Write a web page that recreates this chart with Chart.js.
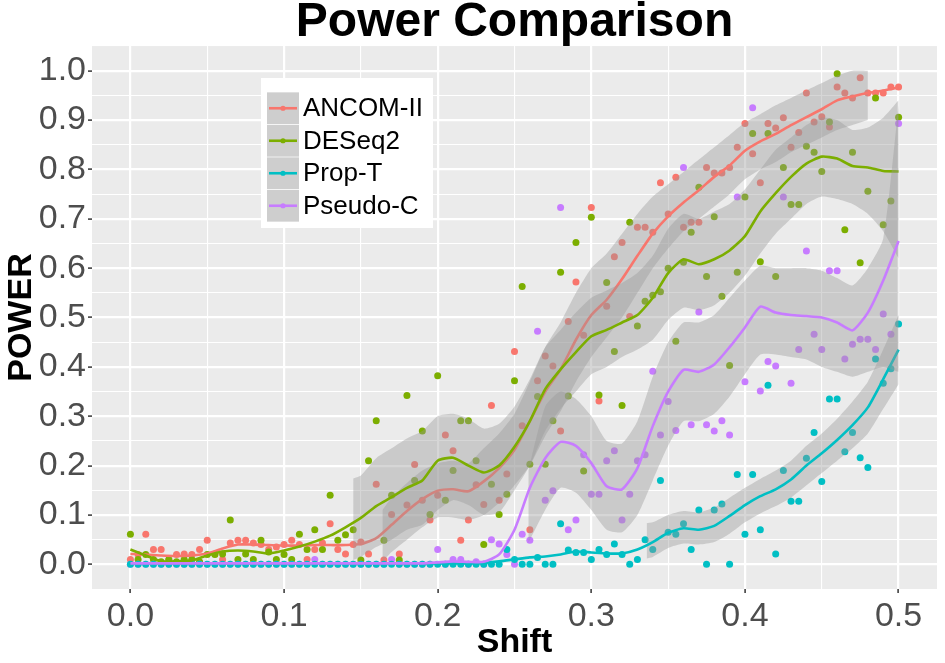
<!DOCTYPE html>
<html lang="en">
<head>
<meta charset="UTF-8">
<title>Power Comparison</title>
<script src="https://cdn.jsdelivr.net/npm/chart.js@4.4.1/dist/chart.umd.min.js"></script>
<style>
    body { margin: 0; background: #ffffff; }
    #wrap { width: 945px; height: 663px; }
</style>
</head>
<body>
<div id="wrap"><canvas id="powerChart" width="945" height="663"></canvas></div>
<script>
// methods, in legend order
const methods = ['ANCOM-II', 'DESeq2', 'Prop-T', 'Pseudo-C'];
const colors = ['#F8766D', '#7CAE00', '#00BFC4', '#C77CFF'];

// shift of every simulated point
const shift = [
    0, 0.005, 0.01, 0.015, 0.02, 0.025, 0.03, 0.035, 0.04, 0.045,
    0.05, 0.055, 0.06, 0.065, 0.07, 0.075, 0.08, 0.085, 0.09, 0.095,
    0.1, 0.105, 0.11, 0.115, 0.12, 0.125, 0.13, 0.135, 0.14, 0.145,
    0.15, 0.155, 0.16, 0.165, 0.17, 0.175, 0.18, 0.185, 0.19, 0.195,
    0.2, 0.205, 0.21, 0.215, 0.22, 0.225, 0.23, 0.235, 0.24, 0.245,
    0.25, 0.255, 0.26, 0.265, 0.27, 0.275, 0.28, 0.285, 0.29, 0.295,
    0.3, 0.305, 0.31, 0.315, 0.32, 0.325, 0.33, 0.335, 0.34, 0.345,
    0.35, 0.355, 0.36, 0.365, 0.37, 0.375, 0.38, 0.385, 0.39, 0.395,
    0.4, 0.405, 0.41, 0.415, 0.42, 0.425, 0.43, 0.435, 0.44, 0.445,
    0.45, 0.455, 0.46, 0.465, 0.47, 0.475, 0.48, 0.485, 0.49, 0.495,
    0.5
];

// observed power per method
const ancomPoints = [
    0.01, 0.02, 0.061, 0.03, 0.03, 0.009, 0.02, 0.021, 0.02, 0.03,
    0.049, 0.021, 0.01, 0.043, 0.049, 0.049, 0.043, 0.04, 0.03, 0.035,
    0.04, 0.049, 0.04, 0.01, 0.03, 0.043, 0.082, 0.03, 0.021, 0.04,
    0.045, 0.021, 0.162, 0.009, 0.101, 0.021, 0.12, 0.202, 0.13, 0.09,
    0.14, 0.262, 0.23, 0.049, 0.09, 0.161, 0.121, 0.322, 0.13, 0.183,
    0.431, 0.281, 0.07, 0.372, 0.422, 0.402, 0.27, 0.492, 0.572, 0.464,
    0.723, 0.331, 0.523, 0.623, 0.652, 0.502, 0.683, 0.683, 0.673, 0.773,
    0.71, 0.784, 0.683, 0.693, 0.693, 0.804, 0.793, 0.793, 0.804, 0.845,
    0.893, 0.832, 0.773, 0.893, 0.884, 0.905, 0.845, 0.875, 0.955, 0.896,
    0.907, 0.886, 0.967, 0.955, 0.945, 0.986, 0.955, 0.955, 0.955, 0.967,
    0.967
];
const deseqPoints = [
    0.061, 0.01, 0.02, 0.01, 0.005, 0.01, 0.005, 0.01, 0.01, 0.005,
    0.02, 0.02, 0.021, 0.09, 0.01, 0.021, 0.01, 0.049, 0.025, 0.01,
    0.02, 0.01, 0.061, 0.03, 0.07, 0.03, 0.14, 0.049, 0.06, 0.07,
    0.009, 0.21, 0.291, 0.049, 0.14, 0.009, 0.342, 0.17, 0.27, 0.101,
    0.382, 0.13, 0.19, 0.291, 0.291, 0.21, 0.04, 0.162, 0.101, 0.142,
    0.372, 0.563, 0.203, 0.34, 0.203, 0.291, 0.592, 0.341, 0.652, 0.189,
    0.703, 0.343, 0.571, 0.431, 0.322, 0.693, 0.483, 0.533, 0.545, 0.552,
    0.6, 0.452, 0.612, 0.673, 0.764, 0.583, 0.704, 0.543, 0.403, 0.592,
    0.744, 0.873, 0.613, 0.873, 0.583, 0.804, 0.729, 0.729, 0.847, 0.835,
    0.796, 0.896, 0.994, 0.678, 0.835, 0.611, 0.756, 0.945, 0.688, 0.736,
    0.906
];
const propPoints = [
    0, 0, 0, 0, 0, 0, 0, 0, 0, 0,
    0, 0, 0, 0, 0, 0, 0, 0, 0, 0,
    0, 0, 0, 0, 0, 0, 0, 0, 0, 0,
    0, 0, 0, 0, 0, 0, 0, 0, 0, 0,
    0, 0, 0, 0, 0, 0, 0, 0, 0, 0.03,
    0.01, 0, 0, 0.014, 0, 0, 0.082, 0.029, 0.024, 0.024,
    0.01, 0.03, 0.02, 0.041, 0.02, 0, 0.01, 0.05, 0.03, 0.17,
    0.065, 0.061, 0.082, 0.03, 0.11, 0, 0.11, 0.122, 0, 0.182,
    0.061, 0.182, 0.07, 0.363, 0.021, 0.19, 0.128, 0.128, 0.215, 0.267,
    0.168, 0.335, 0.335, 0.228, 0.267, 0.216, 0.196, 0.416, 0.367, 0.396,
    0.487
];
const pseudoPoints = [
    0, 0, 0, 0, 0, 0, 0, 0, 0, 0,
    0, 0, 0, 0, 0, 0, 0, 0, 0, 0,
    0, 0, 0, 0, 0.01, 0, 0, 0, 0, 0,
    0, 0, 0, 0, 0.01, 0, 0, 0, 0, 0,
    0.03, 0, 0.01, 0.01, 0, 0.005, 0, 0.05, 0.041, 0.02,
    0, 0.061, 0.049, 0.472, 0.13, 0.149, 0.723, 0.07, 0.09, 0.222,
    0.142, 0.142, 0.21, 0.23, 0.09, 0.142, 0.21, 0.222, 0.391, 0.262,
    0.33, 0.271, 0.804, 0.283, 0.511, 0.283, 0.27, 0.291, 0.262, 0.744,
    0.37, 0.925, 0.351, 0.411, 0.402, 0.744, 0.367, 0.435, 0.635, 0.466,
    0.435, 0.595, 0.595, 0.416, 0.446, 0.456, 0.456, 0.435, 0.507, 0.466,
    0.893
];

// loess fits
const lineShift = [
    0, 0.01, 0.02, 0.03, 0.04, 0.05, 0.06, 0.07, 0.08, 0.09,
    0.1, 0.11, 0.12, 0.13, 0.14, 0.15, 0.16, 0.17, 0.18, 0.19,
    0.2, 0.21, 0.22, 0.23, 0.24, 0.25, 0.26, 0.27, 0.28, 0.29,
    0.3, 0.31, 0.32, 0.33, 0.34, 0.35, 0.36, 0.37, 0.38, 0.39,
    0.4, 0.41, 0.42, 0.43, 0.44, 0.45, 0.46, 0.47, 0.48, 0.49,
    0.5
];
const ancomLine = [
    0.021, 0.02, 0.018, 0.017, 0.018, 0.022, 0.032, 0.04, 0.04, 0.039,
    0.038, 0.038, 0.039, 0.039, 0.039, 0.041, 0.053, 0.08, 0.108, 0.132,
    0.149, 0.152, 0.148, 0.168, 0.195, 0.232, 0.29, 0.35, 0.395, 0.455,
    0.505, 0.536, 0.578, 0.625, 0.67, 0.705, 0.733, 0.758, 0.785, 0.808,
    0.838, 0.857, 0.872, 0.89, 0.906, 0.922, 0.94, 0.948, 0.955, 0.96,
    0.966
];
const deseqLine = [
    0.03, 0.018, 0.006, 0.006, 0.008, 0.018, 0.026, 0.028, 0.026, 0.022,
    0.028, 0.036, 0.046, 0.058, 0.075, 0.094, 0.118, 0.136, 0.155, 0.17,
    0.21, 0.216, 0.2, 0.186, 0.2, 0.238, 0.29, 0.355, 0.395, 0.43,
    0.462, 0.475, 0.49, 0.505, 0.54, 0.59, 0.618, 0.608, 0.618, 0.636,
    0.665, 0.715, 0.752, 0.785, 0.812, 0.826, 0.822, 0.807, 0.804, 0.797,
    0.796
];
const propLine = [
    0.002, 0.002, 0.002, 0.002, 0.002, 0.002, 0.002, 0.002, 0.002, 0.002,
    0.002, 0.002, 0.002, 0.002, 0.002, 0.002, 0.002, 0.002, 0.002, 0.002,
    0.002, 0.002, 0.002, 0.003, 0.006, 0.01, 0.014, 0.016, 0.02, 0.026,
    0.024, 0.022, 0.022, 0.03, 0.045, 0.064, 0.073, 0.07, 0.078, 0.098,
    0.12, 0.138, 0.152, 0.172, 0.2, 0.225, 0.252, 0.282, 0.318, 0.375,
    0.435
];
const pseudoLine = [
    0.002, 0.002, 0.002, 0.002, 0.002, 0.002, 0.002, 0.002, 0.002, 0.002,
    0.002, 0.002, 0.002, 0.002, 0.002, 0.002, 0.002, 0.002, 0.002, 0.002,
    0.004, 0.006, 0.005, 0.005, 0.02, 0.07, 0.155, 0.215, 0.248, 0.24,
    0.205, 0.158, 0.152, 0.195, 0.28, 0.35, 0.394, 0.39, 0.405, 0.44,
    0.48, 0.522, 0.51, 0.505, 0.503, 0.5, 0.49, 0.474, 0.51, 0.575,
    0.655
];

// confidence bands (only where the fit reports them)
const ancomBandShift = [0.164, 0.17, 0.18, 0.19, 0.2, 0.21, 0.22, 0.23, 0.24, 0.25, 0.26, 0.27, 0.28, 0.29, 0.3, 0.31, 0.32, 0.33, 0.34, 0.35, 0.36, 0.37, 0.38, 0.39, 0.4, 0.41, 0.42, 0.43, 0.44, 0.45, 0.46, 0.47, 0.48];
const ancomLower = [0.005, 0.025, 0.05, 0.075, 0.095, 0.095, 0.09, 0.1, 0.125, 0.16, 0.2, 0.26, 0.31, 0.37, 0.42, 0.46, 0.5, 0.55, 0.6, 0.64, 0.675, 0.7, 0.725, 0.75, 0.78, 0.8, 0.815, 0.835, 0.85, 0.865, 0.88, 0.89, 0.9];
const ancomUpper = [0.11, 0.135, 0.165, 0.19, 0.205, 0.21, 0.205, 0.235, 0.265, 0.305, 0.37, 0.44, 0.49, 0.55, 0.6, 0.63, 0.67, 0.71, 0.745, 0.77, 0.795, 0.82, 0.845, 0.87, 0.895, 0.912, 0.93, 0.945, 0.96, 0.975, 0.99, 1.0, 1.0];

const deseqBandShift = [0.145, 0.15, 0.16, 0.17, 0.18, 0.19, 0.2, 0.21, 0.22, 0.23, 0.24, 0.25, 0.26, 0.27, 0.28, 0.29, 0.3, 0.31, 0.32, 0.33, 0.34, 0.35, 0.36, 0.37, 0.38, 0.39, 0.4, 0.41, 0.42, 0.43, 0.44, 0.45, 0.46, 0.47, 0.48, 0.49, 0.5];
const deseqLower = [0.009, 0.015, 0.035, 0.05, 0.07, 0.08, 0.11, 0.13, 0.12, 0.1, 0.105, 0.15, 0.2, 0.27, 0.315, 0.35, 0.385, 0.4, 0.42, 0.435, 0.455, 0.495, 0.52, 0.515, 0.525, 0.55, 0.585, 0.63, 0.67, 0.7, 0.73, 0.745, 0.74, 0.73, 0.71, 0.675, 0.62];
const deseqUpper = [0.174, 0.18, 0.215, 0.235, 0.255, 0.27, 0.3, 0.305, 0.295, 0.275, 0.285, 0.32, 0.375, 0.44, 0.475, 0.51, 0.54, 0.555, 0.57, 0.59, 0.625, 0.68, 0.71, 0.7, 0.715, 0.73, 0.76, 0.8, 0.84, 0.865, 0.89, 0.905, 0.9, 0.88, 0.885, 0.905, 0.94];

const propBandShift = [0.336, 0.34, 0.35, 0.36, 0.37, 0.38, 0.39, 0.4, 0.41, 0.42, 0.43, 0.44, 0.45, 0.46, 0.47, 0.48, 0.49, 0.5];
const propLower = [0.012, 0.015, 0.033, 0.042, 0.04, 0.045, 0.062, 0.085, 0.103, 0.118, 0.135, 0.16, 0.185, 0.21, 0.235, 0.265, 0.315, 0.365];
const propUpper = [0.083, 0.085, 0.1, 0.108, 0.105, 0.115, 0.135, 0.155, 0.173, 0.19, 0.21, 0.24, 0.265, 0.295, 0.33, 0.37, 0.435, 0.505];

const pseudoBandShift = [0.259, 0.27, 0.28, 0.29, 0.3, 0.31, 0.32, 0.33, 0.34, 0.35, 0.36, 0.37, 0.38, 0.39, 0.4, 0.41, 0.42, 0.43, 0.44, 0.45, 0.46, 0.47, 0.48, 0.49, 0.5];
const pseudoLower = [0.043, 0.11, 0.155, 0.145, 0.11, 0.07, 0.065, 0.1, 0.17, 0.24, 0.29, 0.29, 0.305, 0.34, 0.385, 0.425, 0.425, 0.42, 0.415, 0.4, 0.39, 0.38, 0.39, 0.4, 0.39];
const pseudoUpper = [0.19, 0.32, 0.35, 0.335, 0.3, 0.25, 0.245, 0.29, 0.38, 0.45, 0.49, 0.49, 0.505, 0.54, 0.575, 0.605, 0.6, 0.6, 0.6, 0.595, 0.58, 0.565, 0.6, 0.66, 0.93];

// axis breaks (majors get labels, the rest are minor grid lines)
const xTicks = [0, 0.05, 0.1, 0.15, 0.2, 0.25, 0.3, 0.35, 0.4, 0.45, 0.5];
const yTicks = [0, 0.05, 0.1, 0.15, 0.2, 0.25, 0.3, 0.35, 0.4, 0.45, 0.5, 0.55, 0.6, 0.65, 0.7, 0.75, 0.8, 0.85, 0.9, 0.95, 1.0];

const FONT = '"Liberation Sans", Arial, sans-serif';
const bandFill = 'rgba(153,153,153,0.4)';

const pts = (xs, ys) => xs.map((x, i) => ({ x: x, y: ys[i] }));
const isMajor = v => Math.abs(v * 10 - Math.round(v * 10)) < 1e-6;

const datasets = [];

// points first (lower order number = drawn on top)
[[ancomPoints, 0, 40], [deseqPoints, 1, 39], [pseudoPoints, 3, 38], [propPoints, 2, 37]].forEach(([ys, k, ord]) => {
    datasets.push({
        label: methods[k] + ' points',
        data: pts(shift, ys),
        showLine: false,
        pointRadius: 3.5,
        pointHoverRadius: 3.5,
        pointBorderWidth: 0,
        pointBackgroundColor: colors[k],
        order: ord
    });
});

// then ribbon + line per method
[
    [ancomBandShift, ancomLower, ancomUpper, ancomLine],
    [deseqBandShift, deseqLower, deseqUpper, deseqLine],
    [propBandShift, propLower, propUpper, propLine],
    [pseudoBandShift, pseudoLower, pseudoUpper, pseudoLine]
].forEach(([bx, lo, hi, line], k) => {
    const base = 30 - 3 * k;
    datasets.push({
        type: 'line', label: methods[k] + ' lower', data: pts(bx, lo),
        borderWidth: 0, borderColor: 'rgba(0,0,0,0)', pointRadius: 0, fill: false, tension: 0.2, order: base + 1
    });
    datasets.push({
        type: 'line', label: methods[k] + ' upper', data: pts(bx, hi),
        borderWidth: 0, borderColor: 'rgba(0,0,0,0)', pointRadius: 0, fill: '-1', backgroundColor: bandFill, tension: 0.2, order: base
    });
    datasets.push({
        type: 'line', label: methods[k], data: pts(lineShift, line),
        borderColor: colors[k], borderWidth: 2.6, pointRadius: 0, fill: false, tension: 0.2, order: base - 1
    });
});

// grey panel behind the grid
const panelBg = {
    id: 'panelBg',
    beforeDraw(chart) {
        const { ctx, chartArea: a } = chart;
        ctx.save();
        ctx.fillStyle = '#ffffff';
        ctx.fillRect(0, 0, chart.width, chart.height);
        ctx.fillStyle = '#EBEBEB';
        ctx.fillRect(a.left, a.top, a.right - a.left, a.bottom - a.top);
        ctx.restore();
    }
};

// ggplot style legend inside the panel
const keyLegend = {
    id: 'keyLegend',
    afterDraw(chart) {
        const ctx = chart.ctx;
        ctx.save();
        ctx.fillStyle = '#ffffff';
        ctx.fillRect(261, 78, 172, 150);
        methods.forEach((m, k) => {
            const top = 92 + k * 32.5;
            const mid = top + 16.25;
            ctx.fillStyle = '#F2F2F2';
            ctx.fillRect(267, top, 32, 32.5);
            ctx.fillStyle = bandFill;
            ctx.fillRect(267, top + 0.5, 32, 31.5);
            ctx.strokeStyle = colors[k];
            ctx.lineWidth = 2.6;
            ctx.beginPath();
            ctx.moveTo(269, mid);
            ctx.lineTo(297, mid);
            ctx.stroke();
            ctx.fillStyle = colors[k];
            ctx.beginPath();
            ctx.arc(283, mid, 2.6, 0, 2 * Math.PI);
            ctx.fill();
            ctx.fillStyle = '#000000';
            ctx.font = '26px ' + FONT;
            ctx.textBaseline = 'middle';
            ctx.textAlign = 'left';
            ctx.fillText(m, 303, mid + 1);
        });
        ctx.restore();
    }
};

const gridOpts = {
    color: '#FFFFFF',
    lineWidth: c => (c.tick && isMajor(c.tick.value)) ? 2.2 : 1.1,
    tickColor: c => (c.tick && isMajor(c.tick.value)) ? '#333333' : 'rgba(0,0,0,0)',
    tickWidth: 1.5,
    tickLength: 4,
    drawTicks: true
};

new Chart(document.getElementById('powerChart'), {
    type: 'scatter',
    data: { datasets: datasets },
    options: {
        responsive: false,
        animation: false,
        devicePixelRatio: 1,
        events: [],
        layout: { padding: { left: 0, right: 8, top: 0, bottom: 0 } },
        plugins: {
            legend: { display: false },
            tooltip: { enabled: false },
            title: {
                display: true,
                text: 'Power Comparison',
                fullSize: false,
                color: '#000000',
                font: { family: FONT, size: 48, weight: 'bold', lineHeight: 0.96 },
                padding: 0
            }
        },
        scales: {
            x: {
                type: 'linear',
                min: -0.025,
                max: 0.525,
                afterBuildTicks: s => { s.ticks = xTicks.map(v => ({ value: v })); },
                afterFit: s => { s.height = 74; },
                grid: gridOpts,
                border: { display: false },
                ticks: {
                    autoSkip: false,
                    maxRotation: 0,
                    padding: 3,
                    color: '#4D4D4D',
                    font: { family: FONT, size: 34 },
                    callback: v => isMajor(v) ? v.toFixed(1) : ''
                },
                title: {
                    display: true,
                    text: 'Shift',
                    color: '#000000',
                    font: { family: FONT, size: 34, weight: 'bold', lineHeight: 1 },
                    padding: { top: 0, bottom: 3 }
                }
            },
            y: {
                type: 'linear',
                min: -0.05,
                max: 1.05,
                afterBuildTicks: s => { s.ticks = yTicks.map(v => ({ value: v })); },
                afterFit: s => { s.width = 92; },
                grid: gridOpts,
                border: { display: false },
                ticks: {
                    autoSkip: false,
                    padding: 2,
                    color: '#4D4D4D',
                    font: { family: FONT, size: 34 },
                    callback: v => isMajor(v) ? v.toFixed(1) : ''
                },
                title: {
                    display: true,
                    text: 'POWER',
                    color: '#000000',
                    font: { family: FONT, size: 34, weight: 'bold', lineHeight: 1 },
                    padding: { top: 5, bottom: 0 }
                }
            }
        }
    },
    plugins: [panelBg, keyLegend]
});
</script>
</body>
</html>
